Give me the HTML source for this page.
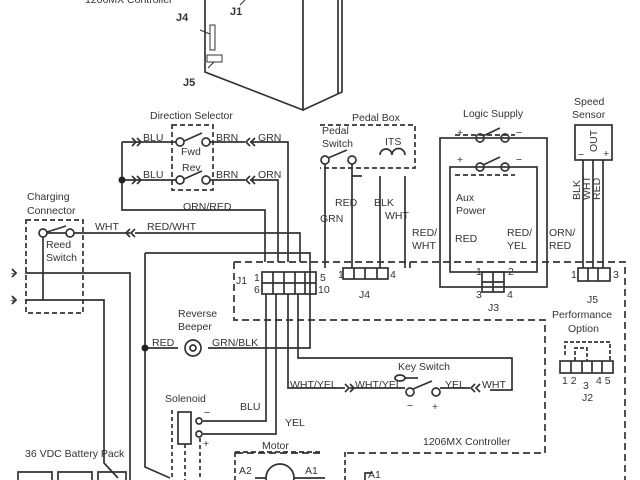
<!DOCTYPE html>
<html><head><meta charset="utf-8"><style>
html,body{margin:0;padding:0;background:#fff}
svg{display:block}
text{font-family:"Liberation Sans",sans-serif;font-size:10.5px;fill:#333}
.b{font-weight:bold;font-size:11px}
</style></head><body>
<svg width="640" height="480" viewBox="0 0 640 480" xmlns="http://www.w3.org/2000/svg">
<g stroke="#333" stroke-width="1.7" fill="none">
<path d="M205 0V72L303 110V0M303 110L342 92V0M338 0V94"/>
<rect x="210" y="25" width="5" height="25" stroke-width="1"/>
<rect x="207" y="55" width="15" height="7" stroke-width="1"/>
<path d="M200 30L210 34M208 68L214 62M240 5L245 0" stroke-width="1"/>
<path d="M172 125H213V190H172Z" stroke-dasharray="5,3"/>
<path d="M122 142H176M184 141L202 133M210 142H245M250 142H288V262"/>
<path d="M122 180H176M184 179L202 171M210 180H245M250 180H278V262"/>
<path d="M122 142V210H265V262"/>
<circle cx="180" cy="142" r="4"/><circle cx="206" cy="142" r="4"/>
<circle cx="180" cy="180" r="4"/><circle cx="206" cy="180" r="4"/>
<path d="M132 138l4 4-4 4M137 138l4 4-4 4M132 176l4 4-4 4M137 176l4 4-4 4M250 138l-4 4 4 4M255 138l-4 4 4 4M250 176l-4 4 4 4M255 176l-4 4 4 4"/>
<path d="M26 220H83V313H26Z" stroke-dasharray="5,3"/>
<path d="M47 233H66M47 232L66 226M74 233H130M135 233H300V262"/>
<circle cx="43" cy="233" r="4"/><circle cx="70" cy="233" r="4"/>
<path d="M130 229l-4 4 4 4M135 229l-4 4 4 4"/>
<path d="M43 237V300M25 273H130V480M25 300H104V463L118 478"/>
<path d="M12 269l4 4-4 4M12 296l4 4-4 4"/>
<path d="M145 253H310V348H208M145 253V467L170 478M145 348H178"/>
<path d="M234 262H625V480M234 262V320H545V453H345M320 453H235" stroke-dasharray="7,4"/>
<rect x="262" y="272" width="54" height="22"/>
<path d="M262 283H316M273 272V294M284 272V294M295 272V294M305 272V294"/>
<path d="M266 294V421H203M276 294V434H203M288 294V388H345M298 294V358H512V390H490M350 388H405M440 388H470"/>
<path d="M345 384l4 4-4 4M350 384l4 4-4 4M475 384l-4 4 4 4M480 384l-4 4 4 4"/>
<circle cx="410" cy="392" r="4"/><circle cx="436" cy="392" r="4"/>
<path d="M413 389L432 381"/>
<ellipse cx="400" cy="378" rx="5" ry="3"/><path d="M405 378H418"/>
<circle cx="193" cy="348" r="8"/><circle cx="193" cy="348" r="3"/>
<path d="M320 125H415V168H320" stroke-dasharray="5,3"/>
<circle cx="325" cy="160" r="4"/><circle cx="352" cy="160" r="4"/>
<path d="M328 158L347 150M325 164V268M352 164V268M352 176H362M380 176V268M405 176V268M380 155a6 6 0 0 1 12 0a6 6 0 0 1 13 0"/>
<rect x="343" y="268" width="45" height="11"/>
<path d="M354 268V279M365 268V279M377 268V279"/>
<rect x="440" y="138" width="107" height="149"/>
<rect x="450" y="167" width="87" height="105"/>
<path d="M455 135H515M455 175H515" stroke-dasharray="5,3"/>
<circle cx="480" cy="138" r="4"/><circle cx="505" cy="138" r="4"/>
<circle cx="480" cy="167" r="4"/><circle cx="505" cy="167" r="4"/>
<path d="M483 136L500 128M483 165L500 157M410 262V268"/>
<rect x="482" y="272" width="22" height="20"/><path d="M493 272V292M482 282H504"/>
<rect x="575" y="125" width="37" height="35"/>
<path d="M583 160V268M593 160V268M603 160V268"/>
<rect x="578" y="268" width="32" height="13"/><path d="M588 268V281M598 268V281"/>
<rect x="560" y="361" width="53" height="12"/><path d="M571 361V373M582 361V373M592 361V373M602 361V373"/>
<path d="M565 355V342H610V361M575 361V348H587V361" stroke-dasharray="4,2"/>
<rect x="178" y="412" width="13" height="32"/>
<path d="M172 410V480M185 444V480M200 438V480" stroke-dasharray="4,3"/>
<circle cx="199" cy="421" r="3"/><circle cx="199" cy="434" r="3"/>
<path d="M235 452V480M235 452H320M345 452V480" stroke-dasharray="5,3"/>
<circle cx="280" cy="478" r="14"/>
<path d="M255 478H266M294 478H325M365 480V473H372"/>
<path d="M18 480V472H52V480M58 480V472H92V480M98 480V472H126V480"/>
</g>
<circle cx="122" cy="180" r="3.5" fill="#222"/>
<circle cx="145" cy="348" r="3.5" fill="#222"/>
<text x="85" y="3">1206MX Controller</text>
<text x="230" y="15" class="b">J1</text>
<text x="176" y="21" class="b">J4</text>
<text x="183" y="86" class="b">J5</text>
<text x="150" y="119">Direction Selector</text>
<text x="143" y="141">BLU</text><text x="143" y="178">BLU</text>
<text x="216" y="141">BRN</text><text x="216" y="178">BRN</text>
<text x="258" y="141">GRN</text><text x="258" y="178">ORN</text>
<text x="181" y="155">Fwd</text><text x="182" y="171">Rev</text>
<text x="183" y="210">ORN/RED</text>
<text x="27" y="200">Charging</text><text x="27" y="214">Connector</text>
<text x="46" y="248">Reed</text><text x="46" y="261">Switch</text>
<text x="95" y="230">WHT</text><text x="147" y="230">RED/WHT</text>
<text x="11" y="277">−</text><text x="10" y="304">+</text>
<text x="236" y="284">J1</text><text x="254" y="281">1</text><text x="254" y="293">6</text>
<text x="320" y="281">5</text><text x="318" y="293">10</text>
<text x="178" y="317">Reverse</text><text x="178" y="330">Beeper</text>
<text x="152" y="346">RED</text><text x="212" y="346">GRN/BLK</text>
<text x="290" y="388">WHT/YEL</text><text x="355" y="388">WHT/YEL</text>
<text x="398" y="370">Key Switch</text>
<text x="445" y="388">YEL</text><text x="482" y="388">WHT</text>
<text x="407" y="409">−</text><text x="432" y="410">+</text>
<text x="423" y="445">1206MX Controller</text>
<text x="165" y="402">Solenoid</text>
<text x="240" y="410">BLU</text><text x="285" y="426">YEL</text>
<text x="204" y="416">−</text><text x="203" y="447">+</text>
<text x="262" y="449">Motor</text>
<text x="239" y="474">A2</text><text x="305" y="474">A1</text><text x="368" y="478">A1</text>
<text x="25" y="457">36 VDC Battery Pack</text>
<text x="352" y="121">Pedal Box</text>
<text x="322" y="134">Pedal</text><text x="322" y="147">Switch</text>
<text x="385" y="145">ITS</text>
<text x="335" y="206">RED</text><text x="374" y="206">BLK</text>
<text x="320" y="222">GRN</text><text x="385" y="219">WHT</text>
<text x="338" y="278">1</text><text x="390" y="278">4</text><text x="359" y="298">J4</text>
<text x="463" y="117">Logic Supply</text>
<text x="457" y="136">+</text><text x="457" y="163">+</text>
<text x="516" y="136">−</text><text x="516" y="163">−</text>
<text x="456" y="201">Aux</text><text x="456" y="214">Power</text>
<text x="455" y="242">RED</text>
<text x="507" y="236">RED/</text><text x="507" y="249">YEL</text>
<text x="412" y="236">RED/</text><text x="412" y="249">WHT</text>
<text x="549" y="236">ORN/</text><text x="549" y="249">RED</text>
<text x="476" y="275">1</text><text x="508" y="275">2</text>
<text x="476" y="298">3</text><text x="507" y="298">4</text><text x="488" y="311">J3</text>
<text x="574" y="105">Speed</text><text x="572" y="118">Sensor</text>
<text x="578" y="158">−</text><text x="603" y="157">+</text>
<text transform="translate(597,152) rotate(-90)">OUT</text>
<text transform="translate(580,200) rotate(-90)">BLK</text>
<text transform="translate(590,200) rotate(-90)">WHT</text>
<text transform="translate(600,200) rotate(-90)">RED</text>
<text x="571" y="278">1</text><text x="613" y="278">3</text><text x="587" y="303">J5</text>
<text x="552" y="318">Performance</text><text x="568" y="332">Option</text>
<text x="562" y="384">1 2</text><text x="596" y="384">4 5</text><text x="583" y="389">3</text>
<text x="582" y="401">J2</text>
</svg>
</body></html>
